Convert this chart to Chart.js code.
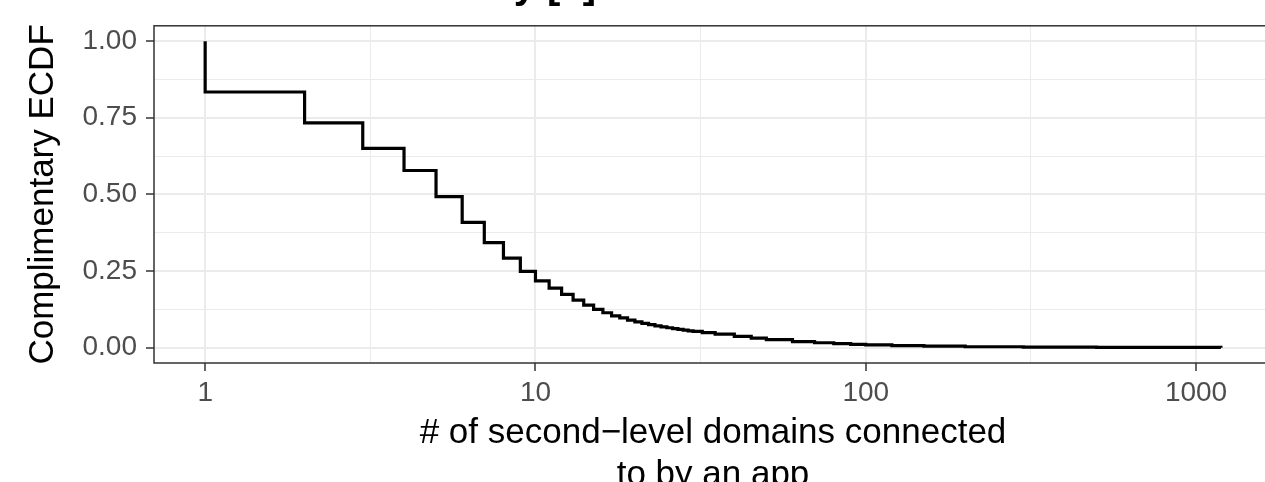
<!DOCTYPE html>
<html><head><meta charset="utf-8">
<script src="https://cdn.jsdelivr.net/npm/chart.js@4"></script>
<style>
html,body{margin:0;padding:0;overflow:hidden;background:#fff;}
#wrap{position:absolute;left:0;top:0;width:1290px;height:500px;}
</style></head><body>
<div id="wrap"><canvas id="c"></canvas></div>
<script>
// ---- data ----
const domainCounts = [1,1,2,3,4,5,6,7,8,9,10,11,12,13,14,15,16,17,18,19,20,21,22,23,24,25,26,27,28,29,30,32,35,40,45,50,60,70,80,90,100,120,150,200,300,500,1189];
const ccdfValues = [1.0,0.834,0.733,0.650,0.578,0.493,0.409,0.343,0.292,0.249,0.218,0.194,0.174,0.155,0.139,0.125,0.114,0.104,0.097,0.090,0.084,0.079,0.075,0.071,0.068,0.065,0.062,0.060,0.057,0.055,0.053,0.049,0.044,0.037,0.031,0.026,0.020,0.016,0.013,0.011,0.009,0.007,0.005,0.003,0.002,0.001,0.000];
const xTickValues = [1,10,100,1000];
const xMinorValues = [3.162,31.62,316.2];
const yTickValues = [0,0.25,0.5,0.75,1];
const yMinorValues = [0.125,0.375,0.625,0.875];
const xTitle = ['# of second\u2212level domains connected','to by an app'];
const yTitle = 'Complimentary ECDF';
const plotTitle = 'Domain counts by [1]';

const FONT = "'Liberation Sans', Arial, sans-serif";
Chart.defaults.font.family = FONT;

const points = domainCounts.map((x,i)=>({x:x,y:ccdfValues[i]}));
const isMajorX = v => xTickValues.includes(v);
const isMajorY = v => yTickValues.includes(v);

const panelPlugin = {
  id:'panel',
  afterDraw(chart){
    const {ctx, chartArea:a} = chart;
    ctx.save();
    ctx.strokeStyle = '#333333';
    ctx.lineWidth = 1.5;
    ctx.strokeRect(a.left, a.top, a.right-a.left, a.bottom-a.top);
    ctx.fillStyle = '#000';
    ctx.font = "bold 40px " + FONT;
    ctx.textAlign = 'right';
    ctx.textBaseline = 'alphabetic';
    ctx.fillText(plotTitle, 596, -2);
    ctx.restore();
  }
};

new Chart(document.getElementById('c'), {
  type:'line',
  data:{ datasets:[{
    data: points,
    stepped:'before',
    borderColor:'#000',
    borderWidth:3.2,
    pointRadius:0,
    fill:false,
    tension:0
  }]},
  options:{
    responsive:true, maintainAspectRatio:false, animation:false, devicePixelRatio:1,
    layout:{padding:{top:25,right:18,left:0,bottom:0}},
    plugins:{legend:{display:false},tooltip:{enabled:false}},
    scales:{
      x:{
        type:'logarithmic', position:'bottom', min:0.706, max:1698,
        afterBuildTicks:s=>{ s.ticks = [...xTickValues,...xMinorValues].sort((a,b)=>a-b).map(v=>({value:v})); },
        afterFit:s=>{ s.height = 137; },
        ticks:{ autoSkip:false, maxRotation:0, minRotation:0, padding:5, color:'#4D4D4D', font:{size:28},
          callback:(v)=> isMajorX(v) ? String(v) : '' },
        grid:{ color:'#EBEBEB', lineWidth:c=> (c.tick && isMajorX(c.tick.value)) ? 2 : 1,
          tickColor:c=> (c.tick && isMajorX(c.tick.value)) ? '#333333' : 'rgba(0,0,0,0)',
          tickLength:8, tickWidth:1.5, drawTicks:true },
        border:{display:false},
        title:{ display:true, text:xTitle, color:'#000', font:{size:35, lineHeight:1.2}, padding:{top:0,bottom:4} }
      },
      y:{
        type:'linear', min:-0.05, max:1.05,
        afterBuildTicks:s=>{ s.ticks = [...yTickValues,...yMinorValues].sort((a,b)=>a-b).map(v=>({value:v})); },
        afterFit:s=>{ s.width = 154; },
        ticks:{ autoSkip:false, padding:9, color:'#4D4D4D', font:{size:28},
          callback:(v)=> isMajorY(v) ? v.toFixed(2) : '' },
        grid:{ color:'#EBEBEB', lineWidth:c=> (c.tick && isMajorY(c.tick.value)) ? 2 : 1,
          tickColor:c=> (c.tick && isMajorY(c.tick.value)) ? '#333333' : 'rgba(0,0,0,0)',
          tickLength:8, tickWidth:1.5, drawTicks:true },
        border:{display:false},
        title:{ display:true, text:yTitle, color:'#000', font:{size:35}, padding:{top:22,bottom:0} }
      }
    }
  },
  plugins:[panelPlugin]
});
</script>
</body></html>
